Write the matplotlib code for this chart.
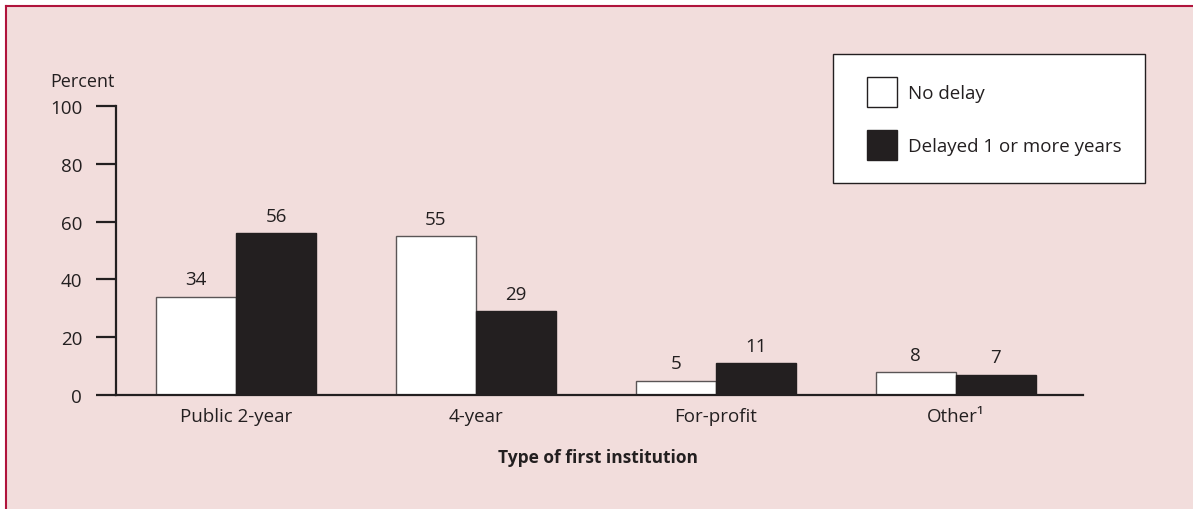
import matplotlib
matplotlib.use("Agg")
import matplotlib.pyplot as plt
from matplotlib.lines import Line2D
from matplotlib.patches import Rectangle, Patch
from matplotlib.legend_handler import HandlerPatch
import numpy as np

categories = ["Public 2-year", "4-year", "For-profit", "Other\u00b9"]
no_delay = [34, 55, 5, 8]
delayed = [56, 29, 11, 7]
series_names = ["No delay", "Delayed 1 or more years"]
yticks = [0, 20, 40, 60, 80, 100]

BG = "#f2dddc"
DARK = "#231f20"
BORDER = "#b0143c"
TXT = "#231f20"
FS = 13.5

plt.rcParams['font.family'] = ['Open Sans', 'DejaVu Sans']

W, H = 1193, 510
fig = plt.figure(figsize=(W / 100, H / 100), dpi=100)
fig.patch.set_facecolor("white")

# background panel and border
fig.patches.append(Rectangle((7 / W, 0), 1 - 7 / W, 1 - 7 / H, transform=fig.transFigure,
                             facecolor=BG, edgecolor="none", zorder=-10))
fig.lines.append(Line2D([6.5 / W, 1], [1 - 6.5 / H, 1 - 6.5 / H], transform=fig.transFigure,
                        color=BORDER, lw=1.5))
fig.lines.append(Line2D([6.5 / W, 6.5 / W], [0, 1 - 6.5 / H], transform=fig.transFigure,
                        color=BORDER, lw=1.5))

ax = fig.add_axes([116 / W, (H - 396) / H, (1083 - 116) / W, (396 - 107) / H])
ax.set_facecolor("none")

x = np.arange(len(categories))
w = 1 / 3
b1 = ax.bar(x - w / 2, no_delay, w, color="white", edgecolor="#5a5556", linewidth=1.0,
            label=series_names[0], zorder=2)
b2 = ax.bar(x + w / 2, delayed, w, color=DARK, edgecolor=DARK, linewidth=1.0,
            label=series_names[1], zorder=2)

for bars, vals in ((b1, no_delay), (b2, delayed)):
    for r, v in zip(bars, vals):
        ax.annotate(f"{v}", (r.get_x() + r.get_width() / 2, v), xytext=(0, 6),
                    textcoords="offset points", ha="center", va="bottom",
                    fontsize=FS, color=TXT)

ax.set_xlim(-0.5, 3.53)
ax.set_ylim(0, 100)
ax.set_yticks(yticks)
ax.set_yticklabels([str(t) for t in yticks], fontsize=FS, color=TXT)
ax.set_xticks(x)
ax.set_xticklabels(categories, fontsize=FS, color=TXT)
ax.tick_params(axis="y", direction="out", length=14.4, width=1.6, color=DARK, pad=10)
ax.tick_params(axis="x", length=0, pad=9)

for s in ("top", "right"):
    ax.spines[s].set_visible(False)
ax.spines["left"].set_linewidth(1.6)
ax.spines["left"].set_color(DARK)
ax.spines["bottom"].set_linewidth(1.6)
ax.spines["bottom"].set_color(DARK)
ax.spines["bottom"].set_zorder(3)

fig.text(50 / W, 1 - 82 / H, "Percent", fontsize=FS - 0.5, color=TXT, va="center", ha="left")
fig.text(598 / W, 1 - 458 / H, "Type of first institution", fontsize=12.5, color=TXT,
         ha="center", va="center", fontweight="bold", fontstretch="condensed")


def square_patch(legend, orig_handle, xdescent, ydescent, width, height, fontsize):
    s = height
    return Rectangle((-xdescent + width - s, -ydescent), s, s)


leg = fig.legend(handles=[Patch(facecolor="white", edgecolor=DARK, linewidth=1.0),
                          Patch(facecolor=DARK, edgecolor=DARK, linewidth=1.0)],
                 labels=series_names, loc="upper left",
                 bbox_to_anchor=(833 / W, 1 - 55 / H), bbox_transform=fig.transFigure,
                 fontsize=FS, frameon=True, fancybox=False, framealpha=1,
                 edgecolor=DARK, facecolor="white", borderaxespad=0,
                 handlelength=2.19, handleheight=2.08, labelspacing=1.23,
                 handletextpad=0.59, borderpad=1.23,
                 handler_map={Patch: HandlerPatch(patch_func=square_patch)})
leg.get_frame().set_linewidth(1.0)
for t in leg.get_texts():
    t.set_color(TXT)

fig.savefig("out.png", dpi=100, facecolor=fig.get_facecolor())
